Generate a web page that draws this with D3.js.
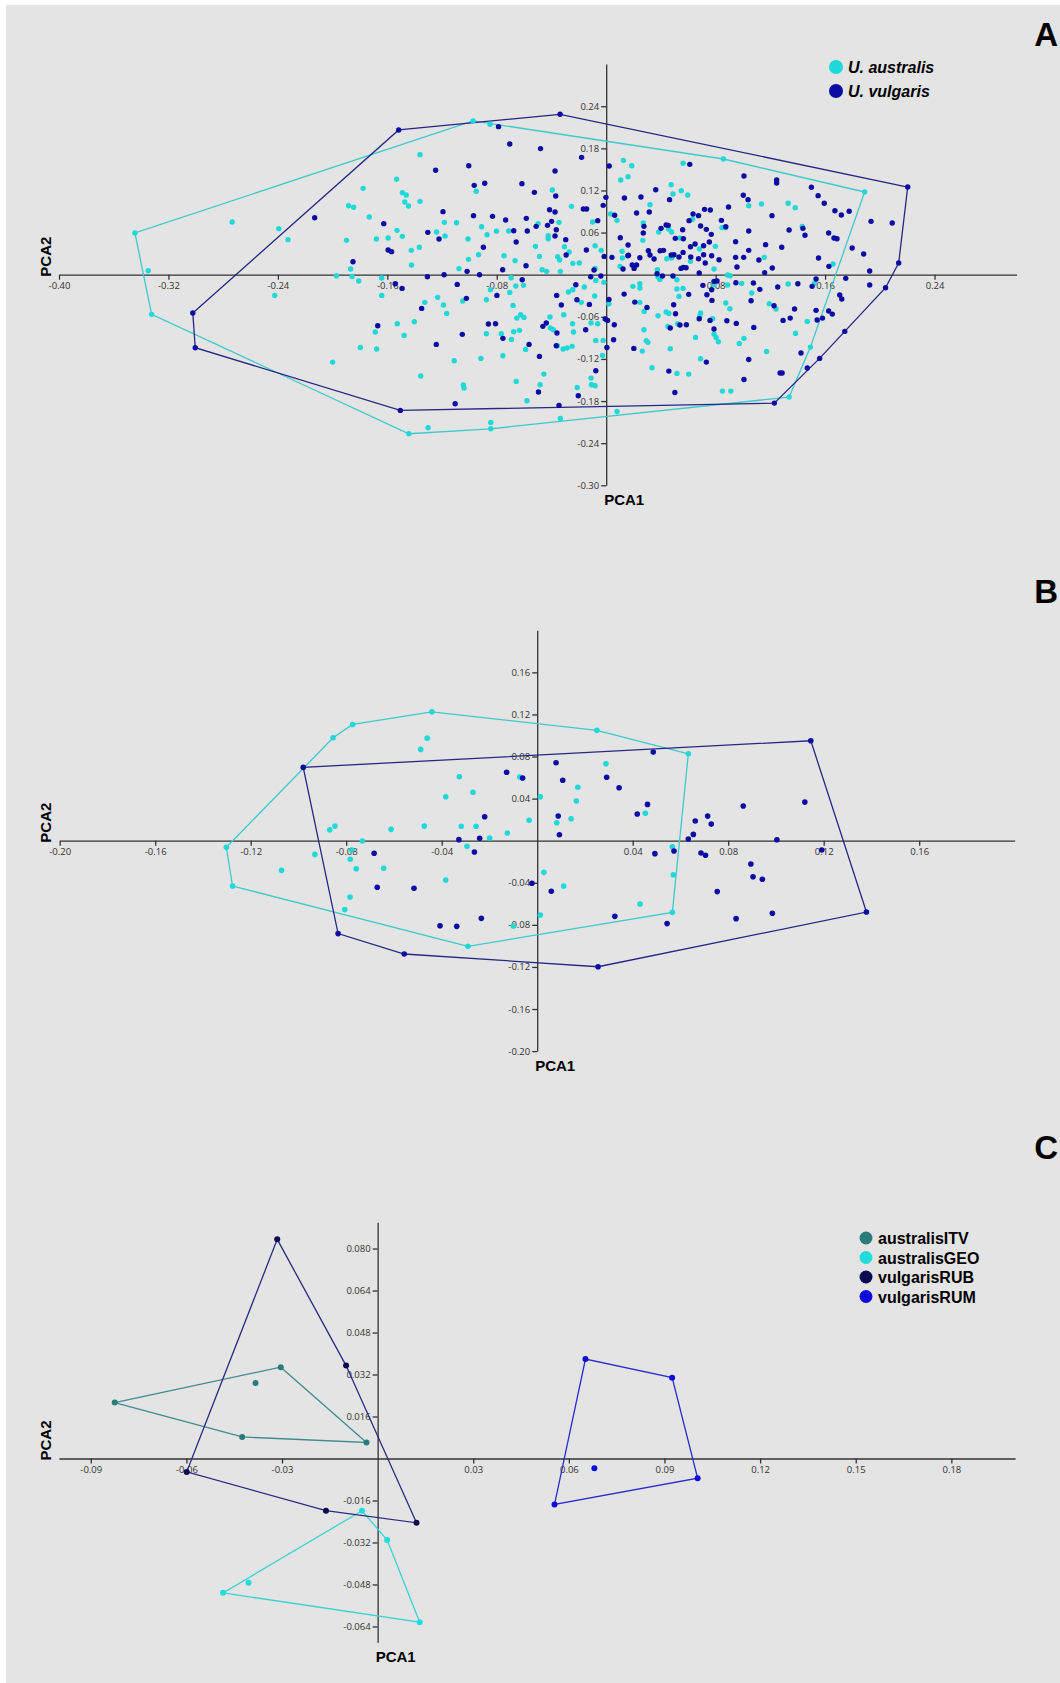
<!DOCTYPE html>
<html lang="en">
<head>
<meta charset="UTF-8">
<title>PCA of Utricularia samples</title>
<script src="https://cdn.jsdelivr.net/npm/d3@7/dist/d3.min.js"></script>
<style>
  body { margin: 0; background: #ffffff; }
  svg { display: block; }
  .tick text { font-family: "Open Sans", sans-serif; font-size: 9.5px; fill: #333; }
  .tick line, .domain { stroke: #333; stroke-width: 1.3; }
  .ttl { font-family: "Liberation Sans", Arial, sans-serif; font-weight: bold; fill: #000; }
</style>
</head>
<body>
<svg id="chart" width="1060" height="1683"></svg>
<script>
// ---- panel A : U. australis vs U. vulgaris  [PCA1, PCA2]
const ausA = [[-0.3445,0.0594],[-0.3348,0.0057],[-0.3323,-0.0565],[-0.1443,-0.2266],[-0.0973,0.2190],
  [-0.2734,0.0751],[-0.2393,0.0656],[-0.2326,0.0499],[-0.2423,-0.0295],[-0.2000,-0.1245],[-0.1972,-0.0014],[-0.1898,0.0489],[-0.1883,0.0983],[-0.1846,0.0960],[-0.1868,0.0081],[-0.1858,-0.0024],[-0.1809,-0.0090],[-0.1777,0.1230],[-0.1732,0.0822],[-0.1680,0.0508],[-0.1641,-0.0048],[-0.1641,-0.0295],[-0.1594,0.0523],[-0.1532,0.1359],[-0.1529,0.0632],[-0.1490,0.1169],[-0.1462,0.1135],[-0.1472,0.1036],[-0.1445,0.0979],[-0.1490,0.0546],[-0.1425,0.0347],[-0.1423,0.0138],[-0.1361,0.1710],[-0.1361,0.1045],[-0.1366,0.0390],[-0.1240,0.0608],[-0.1183,0.0746],[-0.1178,0.0551],[-0.1094,0.0741],[-0.1076,0.0086],[-0.1010,0.0508],[-0.1007,0.0219],[-0.0950,0.1188],[-0.0933,0.0285],[-0.0911,0.0684],[-0.0871,0.0570],[-0.0802,0.0618],[-0.0713,0.0622],[-0.0849,0.2143],[-0.0747,0.0271],[-0.0666,0.0200],[-0.0695,-0.0043],[-0.0661,-0.0162],[-0.0604,-0.0152],[-0.0705,-0.0252],[-0.0846,-0.0214],[-0.1326,-0.0394],[-0.1232,-0.0323],[-0.1190,-0.0432],[-0.1166,-0.0551],[-0.1049,-0.0375],[-0.0876,-0.0356],[-0.0681,-0.0437],[-0.0626,-0.0570],[-0.0653,-0.0618],[-0.0601,-0.0608],[-0.0767,-0.0841],[-0.0876,-0.0841],[-0.0676,-0.0812],[-0.0634,-0.0793],[-0.0693,-0.0922],[-0.0589,-0.1064],[-0.0755,-0.1154],[-0.0916,-0.1192],[-0.1111,-0.1226],[-0.1403,-0.0670],[-0.1527,-0.0698],[-0.1477,-0.0865],[-0.1688,-0.0817],[-0.1797,-0.1036],[-0.1678,-0.1059],[-0.1356,-0.1444],[-0.1044,-0.1572],[-0.1039,-0.1615],[-0.0658,-0.1520],[-0.0579,-0.1796],[-0.1302,-0.2181],[-0.0844,-0.2105],[-0.0844,-0.2195],
  [0.0857,0.1648],[0.1889,0.1178],[0.1337,-0.1743],[0.1493,-0.1031],[0.0079,-0.1948],[-0.0335,-0.2048],
  [0.0126,0.1629],[0.0187,0.1553],[0.0160,0.1397],[0.0106,0.1349],[-0.0394,0.1207],[-0.0254,0.0974],[0.0032,0.0865],[0.0079,0.0774],[-0.0498,0.0727],[-0.0424,0.0556],[-0.0424,0.0513],[-0.0345,0.0746],[-0.0517,0.0404],[-0.0305,0.0399],[-0.0271,0.0323],[-0.0488,0.0261],[-0.0355,0.0257],[-0.0340,0.0209],[-0.0244,0.0162],[-0.0197,0.0166],[-0.0099,0.0751],[-0.0081,0.0413],[-0.0037,0.0347],[0.0118,0.0238],[0.0116,0.0333],[-0.0468,0.0071],[-0.0436,0.0048],[-0.0335,0.0048],[-0.0081,0.0090],[-0.0076,-0.0081],[-0.0017,-0.0109],[0.0020,-0.0413],[-0.0062,-0.0698],[-0.0111,-0.0689],[-0.0084,-0.0304],[-0.0160,-0.0176],[-0.0276,-0.0247],[-0.0244,-0.0214],[-0.0182,-0.0394],[-0.0310,-0.0570],[-0.0246,-0.0698],[-0.0239,-0.0817],[-0.0411,-0.0603],[-0.0409,-0.0760],[-0.0387,-0.0784],[-0.0357,-0.1012],[-0.0315,-0.1059],[-0.0286,-0.1045],[-0.0249,-0.1021],[-0.0456,-0.1416],[-0.0483,-0.1568],[-0.0212,-0.1606],[-0.0111,-0.1473],[-0.0108,-0.1568],[-0.0081,-0.1582],[-0.0076,-0.0936],[-0.0022,-0.0936],[-0.0027,-0.1150],
  [0.0195,-0.0166],[0.0246,-0.0128],[0.0246,-0.0190],[0.0246,-0.0394],[0.0278,-0.0523],[0.0276,-0.0784],[0.0293,-0.0941],[0.0305,-0.0964],[0.0264,-0.1088],[0.0335,-0.1325],[0.0451,-0.0736],[0.0517,-0.1406],[0.0603,-0.1416],[0.0468,-0.1055],[0.0438,-0.0532],[0.0458,-0.0551],[0.0379,-0.0584],[0.0522,-0.0698],[0.0517,-0.0071],[0.0532,-0.0309],[0.0517,-0.0204],[0.0562,-0.0195],[0.0690,-0.0546],[0.0685,-0.0584],[0.0778,-0.0627],[0.0788,-0.0846],[0.0803,-0.0893],[0.0820,-0.0955],[0.0690,-0.1197],[0.0653,-0.0893],[0.0788,-0.0138],[0.0874,-0.0404],[0.0904,-0.0485],[0.0887,-0.0147],[0.0973,-0.0979],[0.1007,-0.0907],[0.1064,-0.0261],[0.0990,-0.0124],[0.0850,-0.1658],[0.0911,-0.1658],[0.1172,-0.1093],[0.1192,-0.0413],[0.1241,-0.0489],[0.1330,-0.0133],[0.1384,-0.0836],[0.1470,-0.0665],[0.1522,-0.0124],[0.1658,0.0152],[0.1433,0.0689],[0.1330,0.1017],[0.1382,0.0955],[0.1135,0.1007],[0.1155,0.0247],[0.1042,0.0983],[0.0872,0.0670],[0.0847,0.0670],[0.0798,0.0404],[0.0788,0.0081],[0.0887,-0.0005],[0.0906,-0.0014],[0.0682,0.0366],[0.0616,0.0190],[0.0478,0.0238],[0.0443,0.0228],[0.0379,-0.0033],[0.0392,-0.0067],[0.0374,0.0071],[0.0478,0.0608],[0.0456,0.0651],[0.0537,0.0523],[0.0384,0.0608],[0.0271,0.0736],[0.0268,0.0489],[0.0101,0.0119],[0.0475,0.1283],[0.0488,0.1150],[0.0549,0.1197],[0.0596,0.1135],[0.0320,0.0998],[0.0631,0.0789],[0.0562,0.1587]];

const vulA = [[-0.1517,0.2062],[-0.3022,-0.0546],[-0.3004,-0.1040],[-0.1505,-0.1933],
  [-0.2131,0.0812],[-0.1851,0.0185],[-0.1626,0.0727],[-0.1594,0.0352],[-0.1569,0.0328],[-0.1542,-0.0128],[-0.1492,-0.0195],[-0.1307,-0.0029],[-0.1304,0.0603],[-0.1222,0.0508],[-0.1247,0.1487],[-0.1193,0.0898],[-0.1185,0.0000],[-0.1017,0.0048],[-0.1005,0.1553],[-0.0970,0.0841],[-0.0965,0.1273],[-0.0888,0.1302],[-0.0898,0.0390],[-0.0926,0.0000],[-0.0831,0.0831],[-0.0735,0.0779],[-0.0676,0.0627],[-0.0658,0.0466],[-0.0616,0.1297],[-0.0584,0.0803],[-0.0577,0.0622],[-0.0705,0.1862],[-0.0787,0.2109],[-0.0757,0.0071],[-0.0586,0.0128],[-0.0614,-0.0071],[-0.0799,-0.0295],[-0.1349,-0.0480],[-0.1089,-0.0138],[-0.1022,-0.0337],[-0.0861,-0.0703],[-0.0809,-0.0698],[-0.0755,-0.0907],[-0.0564,-0.0993],[-0.1052,-0.0850],[-0.1242,-0.0993],[-0.1670,-0.0727],[-0.1104,-0.1838],
  [-0.0337,0.2285],[0.2204,0.1249],[0.2138,0.0166],[0.2042,-0.0185],[0.1744,-0.0808],[0.1560,-0.1192],[0.1470,-0.1330],[0.1229,-0.1829],[-0.0345,-0.1862],
  [-0.0480,0.1796],[-0.0180,0.1672],[-0.0374,0.1477],[0.0022,0.1549],[-0.0525,0.1173],[-0.0369,0.1121],[-0.0002,0.1102],[0.0133,0.1093],[0.0254,0.1107],[-0.0414,0.0926],[-0.0374,0.0893],[-0.0167,0.0936],[-0.0143,0.0936],[-0.0022,0.0988],[0.0062,0.0846],[0.0222,0.0879],[-0.0062,0.0770],[-0.0512,0.0689],[-0.0429,0.0703],[-0.0399,0.0760],[-0.0365,0.0641],[-0.0374,0.0551],[-0.0296,0.0499],[-0.0293,0.0280],[-0.0145,0.0352],[-0.0015,0.0261],[0.0042,0.0247],[0.0163,0.0276],[-0.0089,0.0067],[-0.0113,-0.0029],[-0.0039,-0.0019],[0.0020,-0.0352],[-0.0007,-0.0632],[0.0010,-0.0651],[0.0059,-0.0713],[-0.0222,-0.0143],[-0.0214,-0.0356],[-0.0123,-0.0423],[-0.0328,-0.0432],[-0.0362,-0.0295],[-0.0150,-0.0784],[-0.0463,-0.0736],[-0.0438,-0.0689],[-0.0360,-0.0831],[-0.0365,-0.1012],[-0.0488,-0.1164],[-0.0495,-0.1672],[-0.0204,-0.1724],[-0.0076,-0.1368],[0.0054,-0.0926],[0.0005,-0.1036],
  [0.0131,-0.0276],[0.0209,-0.0390],[0.0298,-0.0466],[0.0202,-0.1050],[0.0458,-0.1373],[0.0502,-0.1677],[0.0468,-0.0760],[0.0493,-0.0428],[0.0507,-0.0556],[0.0539,-0.0717],[0.0586,-0.0713],[0.0603,-0.0280],[0.0680,-0.0627],[0.0759,-0.0651],[0.0732,-0.1245],[0.0788,-0.0774],[0.0773,-0.0366],[0.0882,-0.0656],[0.0951,-0.0694],[0.1007,-0.1492],[0.1042,-0.1207],[0.1079,-0.0751],[0.1059,-0.0371],[0.1076,-0.0119],[0.0948,-0.0114],[0.0771,-0.0214],[0.0736,-0.0285],[0.0707,-0.0152],[0.0788,-0.0095],[0.0810,-0.0090],[0.1227,-0.0442],[0.1123,-0.0209],[0.1254,-0.0176],[0.1293,-0.0651],[0.1345,-0.0618],[0.1377,-0.0489],[0.1424,-0.1116],[0.1534,-0.0508],[0.1542,-0.0646],[0.1581,-0.0618],[0.1626,-0.0518],[0.1653,-0.0561],[0.1707,-0.0290],[0.1722,-0.0347],[0.1401,-0.0128],[0.1505,-0.0166],[0.1534,-0.0062],[0.1628,0.0119],[0.1751,-0.0052],[0.1926,-0.0147],[0.1926,0.0052],[0.1882,0.0295],[0.1798,0.0380],[0.1936,0.0760],[0.2091,0.0736],[0.1776,0.0903],[0.1719,0.0850],[0.1672,0.0912],[0.1594,0.1017],[0.1549,0.1126],[0.1500,0.1245],[0.1626,0.0594],[0.1665,0.0523],[0.1687,0.0513],[0.1552,0.0238],[0.1337,0.0637],[0.1438,0.0660],[0.1453,0.0561],[0.1212,0.0841],[0.1283,0.0390],[0.1214,0.0095],[0.1158,0.0029],[0.1165,0.0428],[0.1116,0.0209],[0.1005,0.0247],[0.1042,0.0347],[0.1042,0.0622],[0.0946,0.0470],[0.0956,0.0109],[0.1007,0.1406],[0.1002,0.1131],[0.1037,0.1069],[0.0894,0.0964],[0.0874,0.0684],[0.0842,0.0774],[0.0768,0.0575],[0.0754,0.0466],[0.0712,0.0413],[0.0712,0.0285],[0.0724,0.0166],[0.0680,0.0024],[0.0946,0.0247],[0.0771,0.0271],[0.0650,0.0437],[0.0675,0.0228],[0.0618,0.0252],[0.0564,0.0513],[0.0564,0.0105],[0.0547,0.0090],[0.0584,0.0100],[0.0532,0.0252],[0.0475,0.0280],[0.0495,0.0285],[0.0419,0.0347],[0.0411,-0.0019],[0.0488,-0.0019],[0.0372,0.0014],[0.0350,0.0223],[0.0308,0.0342],[0.0320,0.0280],[0.0394,0.0342],[0.0453,0.0703],[0.0438,0.0708],[0.0505,0.0518],[0.0559,0.0641],[0.0401,0.0660],[0.0276,0.0689],[0.0271,0.0594],[0.0160,0.0423],[0.0158,0.0271],[0.0123,0.0081],[0.0190,0.0138],[0.0204,0.0090],[0.0222,0.0138],[0.0246,0.0242],[0.0103,0.0527],[0.0362,0.1211],[0.0463,0.1069],[0.0315,0.0893],[0.0606,0.0770],[0.0635,0.0865],[0.0611,0.1572],[0.0675,0.0841],[0.0719,0.0931],[0.0761,0.0922],[0.0690,0.0694],[0.0732,0.0646],[0.0825,0.0214],[0.0616,0.0399],[0.0562,0.0318],[0.1246,0.1349],[0.1246,0.1306],[0.1271,-0.1401],[0.1286,-0.1401]];

// ---- panel B
const ausB = [[-0.1302,-0.0063],[-0.1276,-0.0431],[-0.0855,0.0978],[-0.0773,0.1105],[-0.0441,0.1225],[-0.0461,0.0975],[-0.0488,0.0868],[-0.0869,0.0104],[-0.0847,0.0139],[-0.0612,0.0108],[-0.0473,0.0139],[-0.0732,-0.0003],[-0.0777,-0.0089],[-0.0783,-0.0177],[-0.0931,-0.0130],[-0.1071,-0.0282],[-0.0758,-0.0266],[-0.0643,-0.0263],[-0.0784,-0.0535],[-0.0806,-0.0655],
  [-0.0383,0.0418],[-0.0326,0.0608],[-0.0269,0.0460],[-0.0073,0.0606],[-0.0318,0.0137],[-0.0256,0.0137],[-0.0199,0.0026],[-0.0125,0.0073],[-0.0034,0.0194],[-0.0294,-0.0053],[-0.0383,-0.0374],[0.0028,-0.0301],[0.0111,-0.0431],[0.0013,-0.0706],[-0.0100,-0.0811],[-0.0290,-0.1004],[0.0013,0.0418],[0.0250,0.1049],[0.0170,0.0508],[0.0164,0.0377],[0.0082,0.0171],[0.0142,0.0209],[0.0288,0.0732],[0.0431,-0.0602],
  [0.0633,0.0826],[0.0566,-0.0681],[0.0453,0.0260],[0.0566,-0.0057],[0.0570,-0.0323]];
const vulB = [[-0.0980,0.0697],[-0.0834,-0.0883],[-0.0557,-0.1077],[-0.0683,-0.0120],[-0.0670,-0.0443],[-0.0516,-0.0453],
  [-0.0128,0.0650],[-0.0061,0.0596],[-0.0220,0.0228],[-0.0241,0.0023],[-0.0328,0.0010],[-0.0263,-0.0107],[-0.0022,-0.0405],[0.0059,-0.0481],[-0.0234,-0.0738],[-0.0337,-0.0814],[-0.0407,-0.0808],[0.0255,-0.1198],[0.0079,0.0741],[0.0107,0.0574],[0.0088,0.0235],[0.0093,0.0057],[0.0291,0.0603],[0.0343,0.0504],[0.0419,0.0254],[0.0325,-0.0719],
  [0.1146,0.0950],[0.1379,-0.0678],[0.0486,0.0842],[0.0462,0.0345],[0.0863,0.0330],[0.1121,0.0367],[0.0662,0.0187],[0.0714,0.0234],[0.0729,0.0158],[0.0654,0.0060],[0.0633,0.0016],[0.1004,0.0009],[0.1192,-0.0089],[0.0493,-0.0123],[0.0573,-0.0098],[0.0686,-0.0117],[0.0705,-0.0139],[0.0895,-0.0222],[0.0904,-0.0342],[0.0943,-0.0367],[0.0754,-0.0484],[0.0985,-0.0690],[0.0833,-0.0741],[0.0544,-0.0788]];

// ---- panel C : populations
const itvC = [[-0.0825,0.0213],[-0.0304,0.0348],[-0.0035,0.0061],[-0.0425,0.0082],[-0.0383,0.0288]];
const geoC = [[-0.0049,-0.0199],[0.0030,-0.0311],[0.0132,-0.0624],[-0.0485,-0.0512],[-0.0405,-0.0473]];
const rubC = [[-0.0315,0.0835],[-0.0099,0.0354],[0.0122,-0.0245],[-0.0162,-0.0199],[-0.0599,-0.0051]];
const rumC = [[0.0652,0.0379],[0.0924,0.0308],[0.1004,-0.0075],[0.0555,-0.0175],[0.0680,-0.0037]];

// ---- ticks
const xTicksA = [-0.40,-0.32,-0.24,-0.16,-0.08,0.08,0.16,0.24];
const yTicksA = [-0.30,-0.24,-0.18,-0.12,-0.06,0.06,0.12,0.18,0.24];
const xTicksB = [-0.20,-0.16,-0.12,-0.08,-0.04,0.04,0.08,0.12,0.16];
const yTicksB = [-0.20,-0.16,-0.12,-0.08,-0.04,0.04,0.08,0.12,0.16];
const xTicksC = [-0.09,-0.06,-0.03,0.03,0.06,0.09,0.12,0.15,0.18];
const yTicksC = [-0.064,-0.048,-0.032,-0.016,0.016,0.032,0.048,0.064,0.080];

const legendA = ["U. australis", "U. vulgaris"];
const legendC = ["australisITV", "australisGEO", "vulgarisRUB", "vulgarisRUM"];

const svg = d3.select("#chart");
svg.append("rect").attr("x", 6).attr("y", 5).attr("width", 1054).attr("height", 1678).attr("fill", "#e4e4e4");

function drawPanel(cfg) {
  const g = svg.append("g");
  const x = d3.scaleLinear().domain(cfg.xd).range([cfg.left, cfg.right]);
  const y = d3.scaleLinear().domain(cfg.yd).range([cfg.bottom, cfg.top]);

  g.append("g").attr("transform", `translate(0,${y(0)})`)
    .call(d3.axisBottom(x).tickValues(cfg.xt).tickFormat(d => d.toFixed(cfg.xdec)).tickSize(5).tickSizeOuter(0).tickPadding(3));
  g.append("g").attr("transform", `translate(${x(0)},0)`)
    .call(d3.axisLeft(y).tickValues(cfg.yt).tickFormat(d => d.toFixed(cfg.ydec)).tickSize(5).tickSizeOuter(0).tickPadding(2));

  cfg.series.forEach(s => {
    const hull = d3.polygonHull(s.pts.map(p => [x(p[0]), y(p[1])]));
    g.append("path").attr("d", "M" + hull.join("L") + "Z")
      .attr("fill", "none").attr("stroke", s.line).attr("stroke-width", 1.3);
  });
  cfg.series.forEach(s => {
    g.append("g").selectAll("circle").data(s.pts).join("circle")
      .attr("cx", d => x(d[0])).attr("cy", d => y(d[1])).attr("r", cfg.r).attr("fill", s.color);
  });

  g.append("text").attr("class", "ttl").attr("font-size", 15)
    .attr("transform", `translate(50.5,${y(0) + 2}) rotate(-90)`).text("PCA2");
  g.append("text").attr("class", "ttl").attr("font-size", 15)
    .attr("x", x(0) - 2).attr("y", cfg.bottom + 20).text("PCA1");
  // panel letter, kept just inside the right edge
  g.append("text").attr("class", "ttl").attr("font-size", 33)
    .attr("x", 1058).attr("y", cfg.letterY).attr("text-anchor", "end").text(cfg.letter);

  if (cfg.legend) {
    const lg = g.append("g").selectAll("g").data(cfg.legend.labels).join("g")
      .attr("transform", (d, i) => `translate(${cfg.legend.x},${cfg.legend.y + i * cfg.legend.dy})`);
    lg.append("circle").attr("r", cfg.legend.r).attr("fill", (d, i) => cfg.series[i].color);
    lg.append("text").attr("class", "ttl").attr("font-size", 16).attr("x", 12).attr("y", 6)
      .attr("font-style", cfg.legend.italic ? "italic" : "normal").text(d => d);
  }
}

const cyan = "#1fd8d8", cyanLine = "#3fcaca", navy = "#0c0ca4", navyLine = "#262684";

drawPanel({
  xd: [-0.40, 0.30], yd: [-0.30, 0.30], left: 59, right: 1016.6, top: 64.1, bottom: 485.3,
  xt: xTicksA, yt: yTicksA, xdec: 2, ydec: 2, r: 2.7, letter: "A", letterY: 46,
  series: [{pts: ausA, color: cyan, line: cyanLine}, {pts: vulA, color: navy, line: navyLine}],
  legend: {labels: legendA, x: 836, y: 67, dy: 24, r: 7, italic: true}
});

drawPanel({
  xd: [-0.20, 0.20], yd: [-0.20, 0.20], left: 59.7, right: 1014.7, top: 630.3, bottom: 1051.1,
  xt: xTicksB, yt: yTicksB, xdec: 2, ydec: 2, r: 2.8, letter: "B", letterY: 603,
  series: [{pts: ausB, color: cyan, line: cyanLine}, {pts: vulB, color: navy, line: navyLine}]
});

drawPanel({
  xd: [-0.10, 0.20], yd: [-0.07, 0.09], left: 58.9, right: 1015.1, top: 1222.3, bottom: 1642.2,
  xt: xTicksC, yt: yTicksC, xdec: 2, ydec: 3, r: 3, letter: "C", letterY: 1159,
  series: [{pts: itvC, color: "#2a7c7c", line: "#3f8c8c"},
           {pts: geoC, color: "#20dcdc", line: "#3dd2d2"},
           {pts: rubC, color: "#0b0b52", line: "#2a2a7e"},
           {pts: rumC, color: "#0c0cdc", line: "#2a2ad0"}],
  legend: {labels: legendC, x: 866, y: 1238, dy: 19.5, r: 6.5, italic: false}
});
</script>
</body>
</html>
